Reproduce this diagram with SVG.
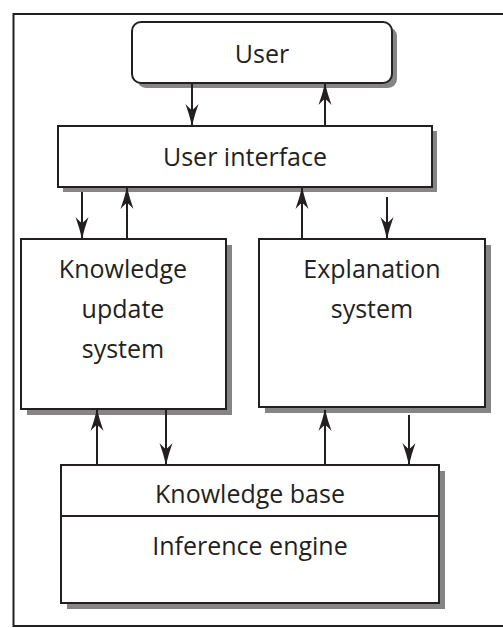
<svg xmlns="http://www.w3.org/2000/svg" width="503" height="628" viewBox="0 0 503 628">
<style>
.box{fill:#fff;stroke:#231f20;stroke-width:2}
.sh{fill:#858585}
.t{font-family:"Open Sans","Liberation Sans",sans-serif;font-size:25px;fill:#231f20;text-anchor:middle}
.c{stroke:#231f20;stroke-width:2;fill:none;marker-end:url(#ah)}
.frame{fill:none;stroke:#231f20;stroke-width:2}
</style>
<defs>
<marker id="ah" viewBox="-22 -8 24 16" refX="0" refY="0" markerWidth="24" markerHeight="16" markerUnits="userSpaceOnUse" orient="auto">
<path d="M1,0 Q-10,-2.5 -21,-6.5 Q-16,-2 -15,0 Q-16,2 -21,6.5 Q-10,2.5 1,0 Z" fill="#231f20"/>
</marker>
</defs>
<rect width="503" height="628" fill="#fff"/>
<path class="frame" d="M503,14 H13.5 V626 H503"/>
<g id="user">
<rect class="sh" x="137" y="27" width="260" height="61" rx="9"/>
<rect class="box" x="132" y="22" width="260" height="61" rx="9"/>
<text class="t" x="262" y="63">User</text>
</g>
<g id="user-interface">
<rect class="sh" x="63" y="131" width="374" height="61"/>
<rect class="box" x="58" y="126" width="374" height="61"/>
<text class="t" x="245" y="166">User interface</text>
</g>
<g id="knowledge-update-system">
<rect class="sh" x="27" y="245" width="205" height="170"/>
<rect class="box" x="21" y="239" width="205" height="170"/>
<text class="t" x="123" y="278">Knowledge</text>
<text class="t" x="123" y="318">update</text>
<text class="t" x="123" y="358">system</text>
</g>
<g id="explanation-system">
<rect class="sh" x="265" y="245" width="226" height="168"/>
<rect class="box" x="259" y="239" width="226" height="168"/>
<text class="t" x="372" y="278">Explanation</text>
<text class="t" x="372" y="318">system</text>
</g>
<g id="knowledge-base">
<rect class="sh" x="67" y="471" width="378" height="138"/>
<rect class="box" x="61" y="465" width="378" height="138"/>
<line x1="61" y1="516" x2="439" y2="516" stroke="#231f20" stroke-width="2"/>
<text class="t" x="250" y="503">Knowledge base</text>
<text class="t" x="250" y="555">Inference engine</text>
</g>
<g id="connectors">
<line class="c" x1="192" y1="83" x2="192" y2="125"/>
<line class="c" x1="325" y1="126" x2="325" y2="84"/>
<line class="c" x1="82" y1="192" x2="82" y2="238"/>
<line class="c" x1="127" y1="238" x2="127" y2="188"/>
<line class="c" x1="302" y1="239" x2="302" y2="188"/>
<line class="c" x1="387" y1="197" x2="387" y2="238"/>
<line class="c" x1="97" y1="465" x2="97" y2="410"/>
<line class="c" x1="166" y1="410" x2="166" y2="464"/>
<line class="c" x1="325" y1="465" x2="325" y2="410"/>
<line class="c" x1="409" y1="415" x2="409" y2="464"/>
</g>
</svg>
